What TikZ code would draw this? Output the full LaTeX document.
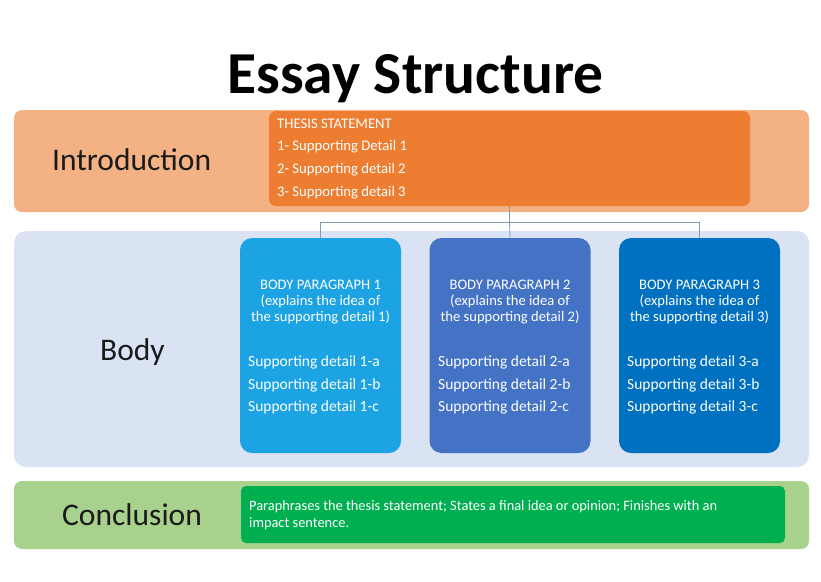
\documentclass[tikz,border=0pt]{standalone}
\usepackage{fontspec}
\setmainfont{Carlito}
\definecolor{introbg}{HTML}{F4B183}
\definecolor{thesisc}{HTML}{ED7D31}
\definecolor{bodybg}{HTML}{DAE3F3}
\definecolor{bonec}{HTML}{1CA3E3}
\definecolor{btwoc}{HTML}{4472C4}
\definecolor{bthreec}{HTML}{0070C0}
\definecolor{conclbg}{HTML}{A9D18E}
\definecolor{conclc}{HTML}{00B050}
\definecolor{connc}{HTML}{7F9DB9}
\definecolor{labelc}{HTML}{1A1A1A}
\tikzset{
  band/.style={rounded corners=8pt, inner sep=0pt, draw=none},
  pbox/.style={rounded corners=12pt, inner sep=0pt, draw=none, minimum width=161pt, minimum height=215pt},
  seclabel/.style={anchor=base west, inner sep=0pt, text=labelc, font=\fontsize{31.5}{36}\selectfont},
  wtext/.style={anchor=base west, inner sep=0pt, text=white},
  thesistext/.style={wtext, font=\fontsize{14.7}{17}\selectfont},
  ptitle/.style={anchor=base, inner sep=0pt, text=white, font=\fontsize{14.6}{17}\selectfont},
  pdetail/.style={wtext, font=\fontsize{15.5}{18}\selectfont},
  ctext/.style={wtext, font=\fontsize{14.4}{17}\selectfont},
  conn/.style={draw=connc, line width=0.8pt}
}
\begin{document}
\begin{tikzpicture}[x=1pt,y=-1pt]
\useasboundingbox (0,0) rectangle (821,581);
\fill[white] (0,0) rectangle (821,581);
% title
\node[anchor=base, inner sep=0pt, font=\fontsize{59.5}{64}\selectfont\bfseries] (title) at (415.5,93.3) {Essay Structure};
% bands
\node[band, fill=introbg, minimum width=795pt, minimum height=102pt] (intro) at (411.5,161) {};
\node[band, fill=bodybg, rounded corners=12pt, minimum width=795pt, minimum height=236pt] (body) at (411.5,349) {};
\node[band, fill=conclbg, minimum width=795pt, minimum height=68pt] (concl) at (411.5,515) {};
% section labels
\node[seclabel] (lintro) at (52,170) {Introduction};
\node[seclabel] (lbody) at (100,360) {Body};
\node[seclabel] (lconcl) at (62,525) {Conclusion};
% thesis box
\node[band, fill=thesisc, rounded corners=7pt, minimum width=481pt, minimum height=95pt] (thesis) at (509.5,158.5) {};
\node[thesistext] (th0) at (277,128) {THESIS STATEMENT};
\node[thesistext] (th1) at (277,150.7) {1- Supporting Detail 1};
\node[thesistext] (th2) at (277,173.4) {2- Supporting detail 2};
\node[thesistext] (th3) at (277,196.1) {3- Supporting detail 3};
% body paragraph boxes
\foreach \i/\c/\col/\l in {1/320.5/bonec/240, 2/510/btwoc/430, 3/699.5/bthreec/619} {
  \node[pbox, fill=\col] (b\i) at (\c,345.5) {};
  \node[ptitle] (b\i t1) at (\c,289) {BODY PARAGRAPH \i};
  \node[ptitle] (b\i t2) at (\c,305) {(explains the idea of};
  \node[ptitle] (b\i t3) at (\c,321) {the supporting detail \i)};
  \node[pdetail] (b\i d1) at (\l+8,366.7) {Supporting detail \i-a};
  \node[pdetail] (b\i d2) at (\l+8,389) {Supporting detail \i-b};
  \node[pdetail] (b\i d3) at (\l+8,411.3) {Supporting detail \i-c};
}
% connectors
\coordinate (j) at (509.5,222);
\draw[conn] (thesis.south) -- (j);
\draw[conn] (j) -| (b1.north);
\draw[conn] (j) -| (b3.north);
\draw[conn] (j) -- (b2.north);
% conclusion box
\node[band, fill=conclc, rounded corners=5pt, minimum width=544pt, minimum height=57pt] (cbox) at (513,514.5) {};
\node[ctext] (c1) at (249,510) {Paraphrases the thesis statement; States a final idea or opinion; Finishes with an};
\node[ctext] (c2) at (249,527) {impact sentence.};
\end{tikzpicture}
\end{document}
